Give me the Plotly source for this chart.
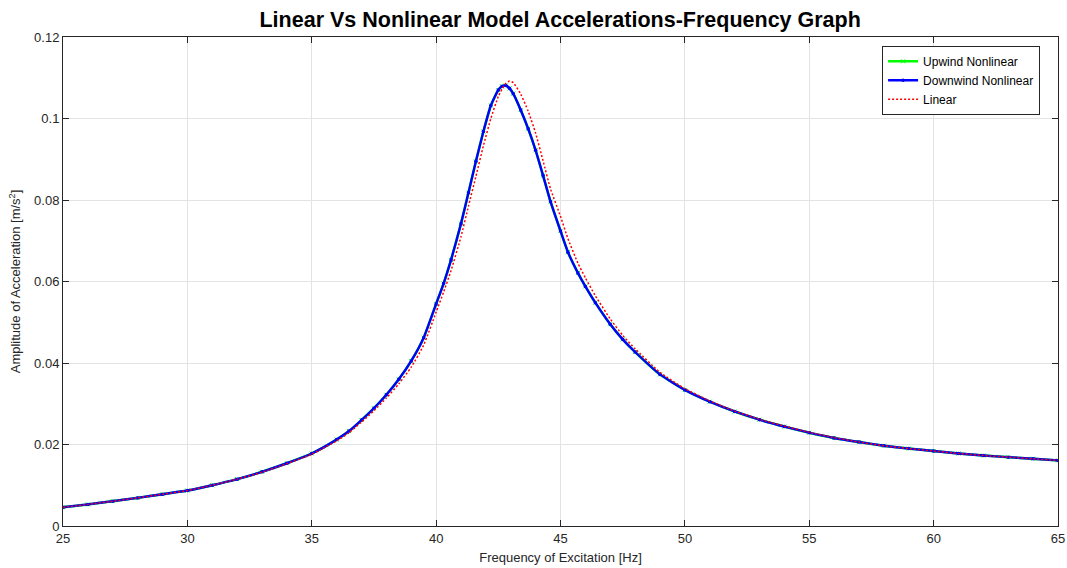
import plotly.graph_objects as go

# Frequency of excitation [Hz]
freq = [25.0, 26.0, 27.0, 28.0, 29.0, 30.0, 31.0, 32.0, 33.0, 34.0, 35.0, 36.0, 36.5,
        37.0, 37.5, 38.0, 38.5, 39.0, 39.5, 40.0, 40.3, 40.6, 41.0, 41.3, 41.6, 41.9,
        42.2, 42.5, 42.65, 42.8, 42.95, 43.1, 43.4, 43.7, 44.0, 44.3, 44.6, 45.0, 45.3,
        45.7, 46.0, 46.4, 47.0, 47.5, 48.0, 49.0, 50.0, 51.0, 52.0, 53.0, 54.0, 55.0,
        56.0, 57.0, 58.0, 59.0, 60.0, 61.0, 62.0, 63.0, 64.0, 65.0]

# Downwind nonlinear amplitude [m/s^2]
downwind = [0.0046, 0.0053, 0.0061, 0.0069, 0.0078, 0.0087, 0.0100, 0.0115, 0.0133, 0.0154,
            0.0178, 0.0212, 0.0233, 0.0260, 0.0289, 0.0322, 0.0360, 0.0405, 0.0462, 0.0545,
            0.0595, 0.0653, 0.0742, 0.0818, 0.0895, 0.0968, 0.1032, 0.1070, 0.1079, 0.1081,
            0.1074, 0.1061, 0.1021, 0.0975, 0.0922, 0.0860, 0.0796, 0.0724, 0.0672, 0.0621,
            0.0588, 0.0548, 0.0495, 0.0458, 0.0427, 0.0372, 0.0334, 0.0305, 0.0281, 0.0261,
            0.0244, 0.0229, 0.0216, 0.0206, 0.0197, 0.0190, 0.0184, 0.0178, 0.0173, 0.0169,
            0.0165, 0.0161]

# Upwind nonlinear amplitude [m/s^2] (visually coincides with downwind)
upwind = [0.0046, 0.0053, 0.0061, 0.0069, 0.0078, 0.0087, 0.0100, 0.0115, 0.0133, 0.0154,
          0.0178, 0.0212, 0.0233, 0.0260, 0.0289, 0.0322, 0.0360, 0.0405, 0.0462, 0.0545,
          0.0595, 0.0653, 0.0742, 0.0818, 0.0895, 0.0968, 0.1032, 0.1070, 0.1079, 0.1081,
          0.1074, 0.1061, 0.1021, 0.0975, 0.0922, 0.0860, 0.0796, 0.0724, 0.0672, 0.0621,
          0.0588, 0.0548, 0.0495, 0.0458, 0.0427, 0.0372, 0.0334, 0.0305, 0.0281, 0.0261,
          0.0244, 0.0229, 0.0216, 0.0206, 0.0197, 0.0190, 0.0184, 0.0178, 0.0173, 0.0169,
          0.0165, 0.0161]

# Linear model amplitude [m/s^2]
linear = [0.0046, 0.0053, 0.0061, 0.0069, 0.0078, 0.0087, 0.0100, 0.0115, 0.0132, 0.0153,
          0.0176, 0.0209, 0.0229, 0.0255, 0.0283, 0.0314, 0.0349, 0.0390, 0.0444, 0.0525,
          0.0574, 0.0627, 0.0710, 0.0785, 0.0858, 0.0933, 0.1000, 0.1054, 0.1072, 0.1086,
          0.1092, 0.1088, 0.1060, 0.1018, 0.0964, 0.0896, 0.0827, 0.0760, 0.0705, 0.0645,
          0.0609, 0.0565, 0.0508, 0.0468, 0.0435, 0.0377, 0.0337, 0.0307, 0.0282, 0.0262,
          0.0245, 0.0230, 0.0217, 0.0206, 0.0197, 0.0190, 0.0184, 0.0178, 0.0173, 0.0169,
          0.0165, 0.0161]

x_ticks = [25, 30, 35, 40, 45, 50, 55, 60, 65]
y_ticks = [0, 0.02, 0.04, 0.06, 0.08, 0.1, 0.12]
y_tick_text = ["0", "0.02", "0.04", "0.06", "0.08", "0.1", "0.12"]

FONT = "Liberation Sans, Arial, sans-serif"

fig = go.Figure()
fig.add_trace(go.Scatter(x=freq, y=upwind, mode="lines+markers", name="Upwind Nonlinear",
                         line=dict(color="#00ff00", width=2.5, shape="spline", smoothing=0.5),
                         marker=dict(symbol="x-thin", size=4, color="#00ff00",
                                     line=dict(width=1, color="#00ff00"))))
fig.add_trace(go.Scatter(x=freq, y=downwind, mode="lines+markers", name="Downwind Nonlinear",
                         line=dict(color="#0000ff", width=2.4, shape="spline", smoothing=0.5),
                         marker=dict(symbol="circle", size=3.5, color="#0000ff")))
fig.add_trace(go.Scatter(x=freq, y=linear, mode="lines", name="Linear",
                         line=dict(color="#ff0000", width=1.5, dash="2px,2px",
                                   shape="spline", smoothing=0.5)))

axis_common = dict(showline=True, linecolor="#262626", linewidth=1, mirror="ticks",
                   ticks="inside", ticklen=6, tickcolor="#262626", automargin=False,
                   showgrid=True, gridcolor="#e3e3e3", gridwidth=1, zeroline=False,
                   tickfont=dict(family=FONT, size=13, color="#262626"))

fig.update_xaxes(range=[25, 65], tickvals=x_ticks,
                 title=dict(text="Frequency of Excitation [Hz]", standoff=8,
                            font=dict(family=FONT, size=13, color="#262626")),
                 **axis_common)
fig.update_yaxes(range=[0, 0.12], tickvals=y_ticks, ticktext=y_tick_text,
                 title=dict(text="Amplitude of Acceleration [m/s<sup>2</sup>]", standoff=10,
                            font=dict(family=FONT, size=13, color="#262626")),
                 **axis_common)

fig.update_layout(
    width=1067, height=568,
    margin=dict(l=63, r=9, t=37, b=42),
    paper_bgcolor="white", plot_bgcolor="white",
    title=dict(text="<b>Linear Vs Nonlinear Model Accelerations-Frequency Graph</b>",
               x=0.525, xanchor="center", y=0.965, yanchor="middle",
               font=dict(family=FONT, size=21.5, color="black")),
    legend=dict(x=0.982, y=0.982, xanchor="right", yanchor="top",
                bgcolor="white", bordercolor="#262626", borderwidth=1,
                font=dict(family=FONT, size=12, color="black"),
                tracegroupgap=0, itemwidth=30),
    showlegend=True,
)

fig.write_html("out.html")
